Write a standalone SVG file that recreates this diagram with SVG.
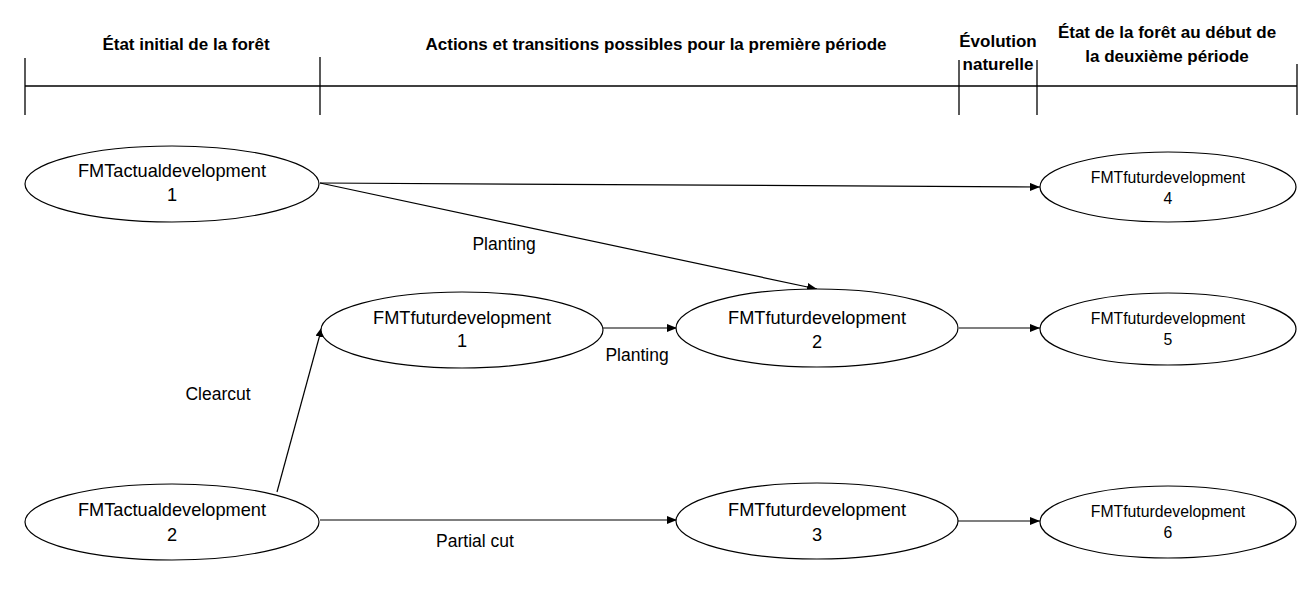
<svg xmlns="http://www.w3.org/2000/svg" width="1310" height="599" viewBox="0 0 1310 599">
<style>
  .hdr { font-family: "Liberation Sans", Arial, sans-serif; font-weight: bold; font-size: 17px; fill: #000; text-anchor: middle; }
  .ln { stroke: #000; stroke-width: 1.3; fill: none; }
  .node ellipse { fill: #fff; stroke: #000; stroke-width: 1.2; }
  .big { font-family: "Liberation Sans", Arial, sans-serif; font-size: 18.2px; fill: #000; text-anchor: middle; }
  .small { font-family: "Liberation Sans", Arial, sans-serif; font-size: 15.8px; fill: #000; text-anchor: middle; }
  .edge { stroke: #000; stroke-width: 1.2; fill: none; marker-end: url(#arr); }
  .lbl { font-family: "Liberation Sans", Arial, sans-serif; font-size: 17.5px; fill: #000; text-anchor: middle; }
</style>
<defs>
  <marker id="arr" markerUnits="userSpaceOnUse" markerWidth="11" markerHeight="9" refX="10" refY="4" orient="auto">
    <path d="M0,0 L10,4 L0,8 z" fill="#000"/>
  </marker>
</defs>
<rect width="1310" height="599" fill="#fff"/>
<g id="header">
  <line class="ln" x1="25" y1="86" x2="1297" y2="86"/>
  <line class="ln" x1="25" y1="58" x2="25" y2="115"/>
  <line class="ln" x1="320" y1="57" x2="320" y2="115"/>
  <line class="ln" x1="959" y1="60" x2="959" y2="115"/>
  <line class="ln" x1="1037" y1="60" x2="1037" y2="115"/>
  <line class="ln" x1="1297" y1="64" x2="1297" y2="115"/>
  <text class="hdr" x="186" y="50">État initial de la forêt</text>
  <text class="hdr" x="656" y="50">Actions et transitions possibles pour la première période</text>
  <text class="hdr" x="998" y="47">Évolution</text>
  <text class="hdr" x="998" y="70">naturelle</text>
  <text class="hdr" x="1167" y="38">État de la forêt au début de</text>
  <text class="hdr" x="1167" y="62">la deuxième période</text>
</g>
<g id="connectors">
  <line class="edge" x1="320" y1="183" x2="1040" y2="187"/>
  <line class="edge" x1="320" y1="183" x2="817" y2="289"/>
  <line class="edge" x1="603" y1="328" x2="677" y2="328"/>
  <line class="edge" x1="959" y1="328" x2="1040" y2="328"/>
  <line class="edge" x1="277" y1="492" x2="322" y2="327"/>
  <line class="edge" x1="320" y1="520" x2="677" y2="520"/>
  <line class="edge" x1="958" y1="521" x2="1040" y2="521"/>
  <text class="lbl" x="504" y="250">Planting</text>
  <text class="lbl" x="637" y="361">Planting</text>
  <text class="lbl" x="218" y="400">Clearcut</text>
  <text class="lbl" x="475" y="547">Partial cut</text>
</g>
<g id="actual1" class="node">
  <ellipse cx="172" cy="184" rx="147" ry="38"/>
  <text class="big" x="172" y="177">FMTactualdevelopment</text>
  <text class="big" x="172" y="201">1</text>
</g>
<g id="actual2" class="node">
  <ellipse cx="172" cy="522" rx="147" ry="38"/>
  <text class="big" x="172" y="516">FMTactualdevelopment</text>
  <text class="big" x="172" y="541">2</text>
</g>
<g id="futur1" class="node">
  <ellipse cx="462" cy="330" rx="141" ry="38"/>
  <text class="big" x="462" y="324">FMTfuturdevelopment</text>
  <text class="big" x="462" y="347">1</text>
</g>
<g id="futur2" class="node">
  <ellipse cx="817" cy="328" rx="141" ry="39"/>
  <text class="big" x="817" y="324">FMTfuturdevelopment</text>
  <text class="big" x="817" y="348">2</text>
</g>
<g id="futur3" class="node">
  <ellipse cx="817" cy="521" rx="141" ry="38"/>
  <text class="big" x="817" y="516">FMTfuturdevelopment</text>
  <text class="big" x="817" y="541">3</text>
</g>
<g id="futur4" class="node">
  <ellipse cx="1168" cy="187" rx="128" ry="35"/>
  <text class="small" x="1168" y="183">FMTfuturdevelopment</text>
  <text class="small" x="1168" y="204">4</text>
</g>
<g id="futur5" class="node">
  <ellipse cx="1168" cy="329" rx="128" ry="36"/>
  <text class="small" x="1168" y="324">FMTfuturdevelopment</text>
  <text class="small" x="1168" y="345">5</text>
</g>
<g id="futur6" class="node">
  <ellipse cx="1168" cy="522" rx="128" ry="36"/>
  <text class="small" x="1168" y="517">FMTfuturdevelopment</text>
  <text class="small" x="1168" y="538">6</text>
</g>
</svg>
